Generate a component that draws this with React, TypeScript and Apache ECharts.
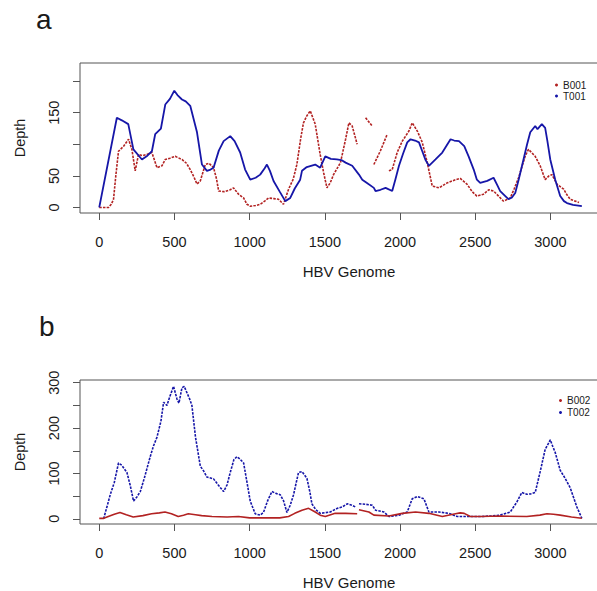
import React, { useEffect, useRef } from "react";
import * as echarts from "echarts";

// ---------- Data ----------
const X_TICKS = [0, 500, 1000, 1500, 2000, 2500, 3000];
const Y_TICKS_A = [0, 50, 100, 150, 200];
const Y_LABELS_A = [0, 50, 150];
const Y_TICKS_B = [0, 50, 100, 150, 200, 250, 300];
const Y_LABELS_B = [0, 100, 200, 300];

const T001_POS = [0, 117, 150, 193, 227, 284, 320, 350, 372, 410, 439, 470, 499, 520, 550, 575, 605, 650, 683, 716, 740, 760, 795, 827, 871, 900, 937, 970, 1004, 1040, 1070, 1100, 1115, 1135, 1159, 1200, 1237, 1270, 1300, 1336, 1348, 1380, 1436, 1469, 1503, 1540, 1580, 1610, 1638, 1682, 1727, 1749, 1790, 1826, 1837, 1870, 1904, 1948, 1970, 1993, 2020, 2048, 2070, 2100, 2126, 2148, 2170, 2192, 2236, 2281, 2310, 2336, 2360, 2392, 2427, 2456, 2490, 2511, 2533, 2580, 2622, 2645, 2666, 2700, 2721, 2745, 2766, 2790, 2821, 2845, 2866, 2899, 2914, 2943, 2965, 2980, 2999, 3032, 3065, 3090, 3110, 3150, 3209];
const T001_DEPTH = [0, 142, 138, 132, 92, 76, 82, 89, 116, 125, 163, 172, 185, 178, 171, 168, 161, 119, 68, 58, 60, 63, 90, 105, 113, 105, 87, 60, 44, 47, 52, 62, 68, 58, 42, 25, 10, 15, 30, 44, 58, 64, 68, 63, 81, 77, 76, 75, 71, 66, 52, 44, 37, 31, 26, 28, 31, 26, 45, 66, 85, 103, 108, 106, 103, 89, 75, 66, 76, 87, 98, 108, 106, 105, 97, 81, 60, 44, 39, 42, 47, 36, 26, 18, 13, 16, 23, 45, 76, 100, 119, 129, 124, 132, 126, 105, 76, 44, 18, 10, 7, 4, 2];

const B001_POS = [0, 62, 80, 95, 110, 128, 162, 195, 217, 239, 261, 290, 317, 350, 384, 417, 439, 470, 505, 550, 580, 605, 630, 650, 672, 705, 730, 760, 780, 794, 830, 871, 893, 926, 960, 982, 1004, 1040, 1070, 1100, 1126, 1160, 1192, 1225, 1259, 1290, 1314, 1340, 1358, 1380, 1403, 1436, 1469, 1492, 1514, 1536, 1558, 1604, 1638, 1660, 1682, 1715, 1740, 1771, 1815, 1820, 1826, 1870, 1915, 1920, 1926, 1948, 1981, 2015, 2059, 2081, 2115, 2148, 2181, 2214, 2259, 2314, 2369, 2400, 2445, 2480, 2511, 2555, 2590, 2622, 2655, 2688, 2733, 2760, 2788, 2832, 2854, 2899, 2932, 2965, 2990, 3010, 3043, 3088, 3110, 3132, 3165, 3190];
const B001_DEPTH = [0, 0, 5, 13, 50, 89, 97, 108, 92, 58, 84, 82, 84, 87, 63, 66, 76, 78, 81, 76, 70, 60, 48, 37, 42, 68, 70, 63, 45, 26, 25, 28, 31, 21, 15, 5, 2, 3, 5, 10, 15, 14, 13, 5, 29, 45, 68, 110, 134, 145, 153, 132, 84, 55, 31, 39, 52, 71, 108, 134, 129, 100, null, 142, 129, null, 68, 90, 116, null, 58, 60, 87, 105, 121, 134, 121, 103, 71, 34, 31, 39, 44, 46, 37, 25, 18, 21, 28, 26, 18, 10, 15, 30, 47, 81, 92, 81, 66, 44, 50, 52, 37, 29, 20, 13, 10, 8];

const T002_POS = [29, 50, 73, 100, 128, 150, 184, 205, 228, 250, 273, 300, 339, 360, 384, 410, 428, 450, 470, 494, 517, 530, 550, 565, 583, 600, 616, 640, 672, 695, 716, 760, 790, 827, 850, 871, 895, 915, 935, 960, 980, 1004, 1037, 1070, 1092, 1120, 1148, 1175, 1203, 1225, 1248, 1270, 1292, 1310, 1325, 1348, 1381, 1400, 1414, 1440, 1469, 1536, 1582, 1616, 1649, 1680, 1704, 1716, 1727, 1770, 1815, 1837, 1893, 1926, 1993, 2048, 2081, 2115, 2159, 2192, 2259, 2325, 2380, 2450, 2533, 2600, 2666, 2733, 2777, 2810, 2843, 2870, 2899, 2932, 2965, 2985, 2999, 3015, 3032, 3065, 3098, 3132, 3176, 3209];
const T002_DEPTH = [0, 25, 53, 80, 123, 118, 102, 75, 39, 48, 60, 90, 137, 160, 180, 215, 257, 250, 270, 292, 264, 255, 289, 292, 278, 265, 250, 180, 116, 105, 92, 88, 75, 60, 75, 102, 130, 137, 132, 123, 85, 39, 11, 8, 14, 40, 60, 56, 53, 40, 14, 30, 53, 80, 102, 104, 89, 60, 33, 20, 12, 15, 23, 26, 33, 30, 26, null, 33, 32, 30, 19, 15, 5, 8, 15, 44, 49, 44, 15, 15, 12, 5, 5, 5, 6, 8, 15, 37, 58, 54, 55, 58, 104, 153, 165, 174, 160, 146, 107, 89, 68, 26, 1];

const B002_POS = [0, 30, 60, 100, 138, 180, 226, 290, 348, 400, 437, 480, 525, 560, 592, 640, 681, 750, 850, 926, 1000, 1100, 1148, 1200, 1259, 1300, 1348, 1392, 1436, 1469, 1503, 1569, 1638, 1715, 1721, 1727, 1793, 1826, 1926, 2015, 2103, 2192, 2281, 2369, 2400, 2427, 2467, 2533, 2666, 2843, 2930, 2977, 3020, 3065, 3140, 3209];
const B002_DEPTH = [1, 1, 5, 10, 14, 9, 4, 7, 11, 13, 15, 11, 5, 8, 11, 9, 7, 5, 4, 5, 2, 2, 2, 2, 5, 12, 19, 23, 15, 8, 5, 12, 12, 11, null, 20, 15, 8, 6, 12, 15, 12, 5, 11, 13, 12, 5, 5, 6, 5, 8, 11, 10, 8, 4, 1];

// ---------- Styling ----------
const RED = "#B22222";
const BLUE = "#1616A8";
const FONT = "'Liberation Sans', Arial, Helvetica, sans-serif";
const AXIS_COLOR = "#555555";
const TEXT_COLOR = "#1a1a1a";

const pairs = (xs: number[], ys: (number | null)[]) =>
  xs.map((x, i) => [x, ys[i] == null ? "-" : ys[i]]);

export default function App() {
  const ref = useRef<HTMLDivElement>(null);

  useEffect(() => {
    if (!ref.current) return;
    const chart = echarts.init(ref.current, undefined, { renderer: "svg" });

    const xAxisFor = (gridIndex: number) => ({
      type: "value",
      gridIndex,
      min: -128,
      max: 3343,
      name: "HBV Genome",
      nameLocation: "middle",
      nameGap: 51,
      nameTextStyle: { fontFamily: FONT, fontSize: 15, color: TEXT_COLOR, padding: [0, 0, 0, 16] },
      axisLine: { show: false, onZero: false },
      axisTick: { show: true, length: 7, lineStyle: { color: AXIS_COLOR }, customValues: X_TICKS },
      axisLabel: {
        margin: 21, fontFamily: FONT, fontSize: 14.5, color: TEXT_COLOR, customValues: X_TICKS,
        formatter: (v: number) => String(v),
      },
      splitLine: { show: false },
    });

    const yAxisFor = (gridIndex: number, min: number, max: number, ticks: number[], labels: number[]) => ({
      type: "value",
      gridIndex,
      min,
      max,
      name: "Depth",
      nameLocation: "middle",
      nameGap: 53,
      nameTextStyle: { fontFamily: FONT, fontSize: 14.5, color: TEXT_COLOR },
      axisLine: { show: false, onZero: false },
      axisTick: { show: true, length: 7, lineStyle: { color: AXIS_COLOR }, customValues: ticks },
      axisLabel: {
        rotate: 90, margin: 19, fontFamily: FONT, fontSize: 14.5, color: TEXT_COLOR, customValues: labels,
        formatter: (v: number) => String(v),
      },
      splitLine: { show: false },
    });

    const legendFor = (names: string[], left: number, top: number, lh: number) => ({
      data: names,
      orient: "vertical",
      left,
      top,
      padding: 0,
      itemGap: 0,
      itemWidth: 3,
      itemHeight: 3,
      icon: "circle",
      textStyle: { fontFamily: FONT, fontSize: 10, color: TEXT_COLOR, lineHeight: lh },
      selectedMode: false,
    });

    const option = {
      animation: false,
      backgroundColor: "#ffffff",
      grid: [
        { left: 80, top: 63, width: 522, height: 150, show: true, borderColor: AXIS_COLOR, borderWidth: 1, backgroundColor: "transparent" },
        { left: 80, top: 380, width: 522, height: 150, show: true, borderColor: AXIS_COLOR, borderWidth: 1, backgroundColor: "transparent" },
      ],
      xAxis: [xAxisFor(0), xAxisFor(1)],
      yAxis: [
        yAxisFor(0, -8.8, 228.8, Y_TICKS_A, Y_LABELS_A),
        yAxisFor(1, -11.5, 306, Y_TICKS_B, Y_LABELS_B),
      ],
      legend: [
        legendFor(["B001", "T001"], 555, 79.5, 11),
        legendFor(["B002", "T002"], 559, 394.5, 12),
      ],
      graphic: [
        { type: "text", left: 36, top: 5, style: { text: "a", fontFamily: FONT, fontSize: 28, fill: TEXT_COLOR } },
        { type: "text", left: 39, top: 312, style: { text: "b", fontFamily: FONT, fontSize: 28, fill: TEXT_COLOR } },
      ],
      series: [
        {
          name: "B001", type: "line", xAxisIndex: 0, yAxisIndex: 0, showSymbol: false, color: RED,
          lineStyle: { width: 1.6, type: [2.5, 1.2], color: RED }, data: pairs(B001_POS, B001_DEPTH), z: 2,
        },
        {
          name: "T001", type: "line", xAxisIndex: 0, yAxisIndex: 0, showSymbol: false, color: BLUE,
          lineStyle: { width: 1.8, color: BLUE }, data: pairs(T001_POS, T001_DEPTH), z: 3,
        },
        {
          name: "B002", type: "line", xAxisIndex: 1, yAxisIndex: 1, showSymbol: false, color: RED,
          lineStyle: { width: 1.6, color: RED }, data: pairs(B002_POS, B002_DEPTH), z: 3,
        },
        {
          name: "T002", type: "line", xAxisIndex: 1, yAxisIndex: 1, showSymbol: false, color: BLUE,
          lineStyle: { width: 1.6, type: [2.5, 1.2], color: BLUE }, data: pairs(T002_POS, T002_DEPTH), z: 2,
        },
      ],
    };

    chart.setOption(option as any);
    return () => chart.dispose();
  }, []);

  return (
    <div style={{ position: "fixed", left: 0, top: 0, width: 597, height: 591, overflow: "hidden", background: "#fff" }}>
      <div ref={ref} style={{ width: 605, height: 591 }} />
    </div>
  );
}
